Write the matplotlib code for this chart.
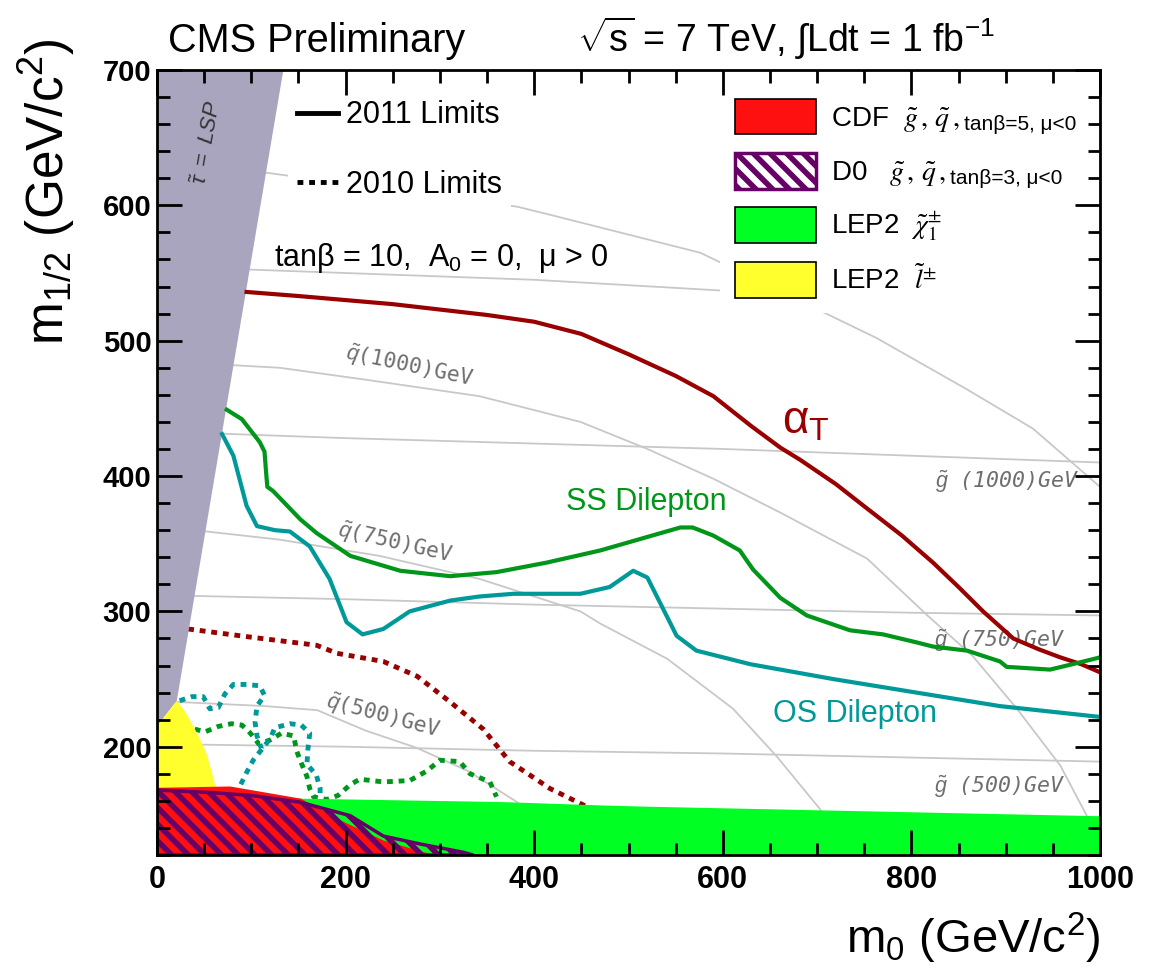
import matplotlib
matplotlib.use("Agg")
import matplotlib.pyplot as plt
from matplotlib.lines import Line2D
from matplotlib.patches import Patch, Polygon
from matplotlib.ticker import MultipleLocator

# ============================================================
# DATA
# ============================================================

# 2011 limits (solid)
alphaT_2011_x = [95, 150, 200, 250, 300, 350, 400, 450, 500, 550, 590, 630, 661, 682, 720, 753, 790, 823, 850, 876, 908, 935, 958, 980, 1000]
alphaT_2011_y = [536, 533, 530, 527, 523, 519, 514, 505, 490, 474, 459, 437, 421, 412, 394, 376, 356, 336, 318, 300, 280, 272, 266, 261, 255]

ss_2011_x = [74, 90, 109, 114, 116, 117, 123, 152, 169, 205, 258, 311, 360, 413, 470, 520, 555, 568, 590, 618, 632, 661, 689, 735, 770, 806, 823, 859, 894, 901, 947, 971, 1000]
ss_2011_y = [449, 442, 425, 418, 400, 392, 389, 368, 358, 341, 330, 326, 329, 336, 345, 355, 362, 362, 356, 345, 331, 310, 297, 286, 283, 277, 274, 271, 263, 259, 257, 261, 266]

os_2011_x = [69, 81, 95, 106, 125, 141, 162, 183, 201, 218, 240, 268, 311, 342, 378, 449, 480, 505, 520, 533, 551, 572, 629, 717, 823, 894, 1000]
os_2011_y = [431, 415, 378, 363, 360, 359, 348, 324, 292, 283, 287, 300, 308, 311, 313, 313, 318, 330, 325, 307, 282, 271, 261, 250, 238, 230, 222]

# 2010 limits (dotted)
alphaT_2010_x = [33, 99, 169, 191, 240, 276, 311, 346, 374, 417, 452, 470]
alphaT_2010_y = [287, 281, 275, 269, 263, 252, 233, 213, 189, 169, 157, 150]

ss_2010_x = [40, 51, 65, 79, 90, 99, 108, 120, 132, 145, 148, 153, 159, 162, 166, 180, 192, 205, 215, 240, 268, 286, 300, 321, 332, 353, 360]
ss_2010_y = [213, 211, 215, 217, 216, 210, 202, 205, 210, 208, 197, 188, 178, 169, 163, 161, 164, 172, 176, 174, 175, 182, 190, 189, 180, 174, 163]

os_2010_x = [24, 37, 49, 56, 65, 72, 81, 95, 109, 114, 106, 104, 106, 111, 120, 125, 141, 153, 162, 160, 159, 169, 173, 173]
os_2010_y = [234, 237, 237, 228, 229, 239, 246, 246, 245, 238, 230, 218, 208, 198, 206, 214, 217, 216, 210, 198, 187, 179, 169, 160]
os_2010_branch_x = [111, 102, 95, 88, 86]
os_2010_branch_y = [198, 190, 181, 171, 165]

# excluded regions
stau_x = [0, 134, 21, 0]
stau_y = [700, 700, 234, 215]
yellow_x = [0, 0, 21, 30, 44, 53, 62, 64]
yellow_y = [160, 215, 234, 226, 208, 194, 171, 160]
green_x = [0, 150, 364, 470, 523, 1000]
green_top = [162, 162, 159.5, 157, 156, 149]
cdf_x = [0, 77, 152, 197, 240, 290, 300]
cdf_top = [170, 171, 162, 145, 131, 121, 120]
d0_x = [0, 60, 100, 152, 205, 240, 280, 325, 335]
d0_top = [168, 166, 164, 159, 149, 134, 128, 122, 120]

# iso-mass curves (gluino ~ flat, squark ~ curved)
gl_x = [0, 200, 400, 600, 800, 1000]
gl500_y = [202, 200, 197, 195, 192, 189]
gl750_y = [312, 309, 305, 302, 299, 297]
gl1000_y = [433, 428, 424, 420, 415, 410]
gl1250_y = [555, 550, 545, 537, 532, 527]

sq500_x = [0, 24, 115, 170, 221, 276, 330, 382, 440]
sq500_y = [234, 233, 230, 227, 212, 199, 182, 159, 120]
sq750_x = [0, 53, 130, 236, 342, 449, 470, 541, 611, 657, 703, 735]
sq750_y = [362, 359, 353, 341, 324, 300, 291, 265, 228, 193, 154, 120]
sq1000_x = [0, 130, 223, 342, 449, 520, 590, 661, 753, 817, 865, 912, 958, 986, 1000]
sq1000_y = [485, 480, 471, 459, 440, 420, 398, 373, 339, 297, 267, 228, 186, 149, 125]
sq1250_x = [0, 117, 382, 417, 576, 597, 763, 859, 929, 1000]
sq1250_y = [630, 624, 599, 593, 565, 558, 502, 464, 435, 392]

iso_labels = [r"$\tilde{q}$(1000)GeV", r"$\tilde{q}$(750)GeV", r"$\tilde{q}$(500)GeV",
              r"$\tilde{g}$ (1000)GeV", r"$\tilde{g}$ (750)GeV", r"$\tilde{g}$ (500)GeV"]
iso_label_x = [268, 252, 240, 902, 894, 894]
iso_label_y = [481, 350, 222, 396, 278, 170]
iso_label_rot = [-12, -13, -15, 0, 0, 0]

# ============================================================
# STYLE
# ============================================================

plt.rcParams['font.family'] = ['Liberation Sans', 'DejaVu Sans']
plt.rcParams['mathtext.fontset'] = 'custom'
plt.rcParams['mathtext.rm'] = 'Liberation Sans'
plt.rcParams['mathtext.it'] = 'Liberation Sans:italic'
plt.rcParams['mathtext.bf'] = 'Liberation Sans:bold'
plt.rcParams['hatch.linewidth'] = 4.0

c_alpha = '#990000'
c_ss = '#00961a'
c_os = '#009999'
c_gray = '#c8c8c8'
c_stau = '#a9a5bf'
c_red = '#ff1010'
c_green = '#00ff22'
c_yellow = '#ffff2e'
c_purple = '#660066'

fig = plt.figure(figsize=(11.5, 9.75), dpi=100)
ax = fig.add_axes([157 / 1150, 1 - 855 / 975, 943 / 1150, 785 / 975])

# iso-mass lines
for yy in [gl500_y, gl750_y, gl1000_y, gl1250_y]:
    ax.plot(gl_x, yy, color=c_gray, lw=1.3, zorder=1)
for xx, yy in [(sq500_x, sq500_y), (sq750_x, sq750_y), (sq1000_x, sq1000_y), (sq1250_x, sq1250_y)]:
    ax.plot(xx, yy, color=c_gray, lw=1.3, zorder=1)

for i, lab in enumerate(iso_labels):
    ax.text(iso_label_x[i], iso_label_y[i], lab, rotation=iso_label_rot[i],
            rotation_mode='anchor', ha='center', va='center', fontsize=15.5,
            family='DejaVu Sans Mono', style='italic' if i >= 3 else 'normal',
            color='#6e6e6e', zorder=1.5)

# 2010 limits
dot = (0, (1.2, 1.2))
ax.plot(alphaT_2010_x, alphaT_2010_y, color=c_alpha, lw=3.5, ls=dot, zorder=2)
ax.plot(ss_2010_x, ss_2010_y, color=c_ss, lw=3.5, ls=dot, zorder=2)
ax.plot(os_2010_x, os_2010_y, color=c_os, lw=3.5, ls=dot, zorder=2)
ax.plot(os_2010_branch_x, os_2010_branch_y, color=c_os, lw=3.5, ls=dot, zorder=2)

# excluded regions
ax.add_patch(Polygon(list(zip(stau_x, stau_y)), closed=True, fc=c_stau, ec='none', zorder=3))
ax.add_patch(Polygon(list(zip(yellow_x, yellow_y)), closed=True, fc=c_yellow, ec='none', zorder=3))
ax.fill_between(green_x, green_top, 120, color=c_green, lw=0, zorder=3)
ax.fill_between(cdf_x, cdf_top, 120, color=c_red, lw=0, zorder=3.1)
ax.fill_between(d0_x, d0_top, 120, facecolor='none', edgecolor=c_purple, hatch='\\\\', lw=2.5, zorder=3.2)

# 2011 limits
ax.plot(alphaT_2011_x, alphaT_2011_y, color=c_alpha, lw=3, zorder=4)
ax.plot(ss_2011_x, ss_2011_y, color=c_ss, lw=3, zorder=4)
ax.plot(os_2011_x, os_2011_y, color=c_os, lw=3, zorder=4)

# curve labels
ax.text(688, 440, r"$\mathrm{\alpha}_{\mathrm{T}}$", color=c_alpha, fontsize=33, ha='center', va='center', zorder=4)
ax.text(519, 381, "SS Dilepton", color=c_ss, fontsize=22, ha='center', va='center', zorder=4)
ax.text(740, 224, "OS Dilepton", color=c_os, fontsize=22, ha='center', va='center', zorder=4)
ax.text(54, 646, r"$\tilde{\tau}\ =\ LSP$", rotation=80, color='#333333', fontsize=16,
        ha='center', va='center', zorder=4)
ax.text(302, 561, "tanβ = 10,  A$_0$ = 0,  μ > 0", fontsize=22, ha='center', va='center', zorder=4)

# legend: 2011 / 2010
lim_handles = [Line2D([], [], color='black', lw=3.5),
               Line2D([], [], color='black', lw=3.5, ls=dot)]
leg1 = ax.legend(lim_handles, ["2011 Limits", "2010 Limits"], loc='upper left',
                 bbox_to_anchor=(0.139, 0.973), borderaxespad=0, borderpad=0.3,
                 fontsize=22, handlelength=1.35, handletextpad=0.25, labelspacing=1.3,
                 frameon=True, facecolor='white', edgecolor='none', fancybox=False, framealpha=1)
leg1.set_zorder(5)
ax.add_artist(leg1)

# legend: other experiments
reg_handles = [Patch(fc=c_red, ec='black', lw=1.2),
               Patch(fc='white', ec=c_purple, hatch='\\\\', lw=2.5),
               Patch(fc=c_green, ec='black', lw=1.2),
               Patch(fc=c_yellow, ec='black', lw=1.2)]
reg_labels = [r"CDF  $\tilde{g}\,,\,\tilde{q}\,,$", r"D0   $\tilde{g}\,,\,\tilde{q}\,,$",
              r"LEP2  $\tilde{\chi}^{\pm}_{1}$", r"LEP2  $\tilde{l}^{\pm}$"]
reg_extra = ["tanβ=5, μ<0", "tanβ=3, μ<0", "", ""]
leg2 = ax.legend(reg_handles, reg_labels, loc='upper left',
                 bbox_to_anchor=(0.597, 0.983, 0.403, 0.0), mode='expand', borderaxespad=0,
                 borderpad=0.55, fontsize=20, handlelength=2.9, handleheight=1.6,
                 handletextpad=0.55, labelspacing=0.67,
                 frameon=True, facecolor='white', edgecolor='none', fancybox=False, framealpha=1)
leg2.set_zorder(5)
for t, extra in zip(leg2.get_texts(), reg_extra):
    t.set_math_fontfamily('stix')
    if extra:
        ax.annotate(extra, xy=(1, 0), xycoords=t, xytext=(3, 0), textcoords='offset points',
                    ha='left', va='bottom', fontsize=15, zorder=6)

# axes
ax.set_xlim(0, 1000)
ax.set_ylim(120, 700)
ax.set_xticks(range(0, 1001, 200))
ax.set_yticks(range(200, 701, 100))
ax.xaxis.set_minor_locator(MultipleLocator(50))
ax.yaxis.set_minor_locator(MultipleLocator(20))
ax.tick_params(which='both', direction='in', top=True, right=True, width=2)
ax.tick_params(which='major', length=18)
ax.tick_params(which='minor', length=9)
ax.tick_params(axis='x', which='major', labelsize=22, pad=7)
ax.tick_params(axis='y', which='major', labelsize=21, pad=4)
for lab in ax.get_xticklabels() + ax.get_yticklabels():
    lab.set_fontweight('bold')
for sp in ax.spines.values():
    sp.set_linewidth(2)
    sp.set_zorder(7)
ax.xaxis.set_zorder(7)
ax.yaxis.set_zorder(7)

fig.text(47 / 1150, 1 - 38 / 975, r"m$_{1/2}$ (GeV/c$^2$)", rotation=90, ha='center', va='top', fontsize=37)
fig.text(1100 / 1150, 1 - 953 / 975, r"m$_0$ (GeV/c$^2$)", ha='right', va='baseline', fontsize=34)
fig.text(168 / 1150, 1 - 52 / 975, "CMS Preliminary", ha='left', va='baseline', fontsize=28.5)
fig.text(577 / 1150, 1 - 52 / 975, r"$\sqrt{\mathrm{s}}$ = 7 TeV, $\int$Ldt = 1 fb$^{-1}$", ha='left', va='baseline', fontsize=27)

fig.savefig("out.png", dpi=100, facecolor='white')
